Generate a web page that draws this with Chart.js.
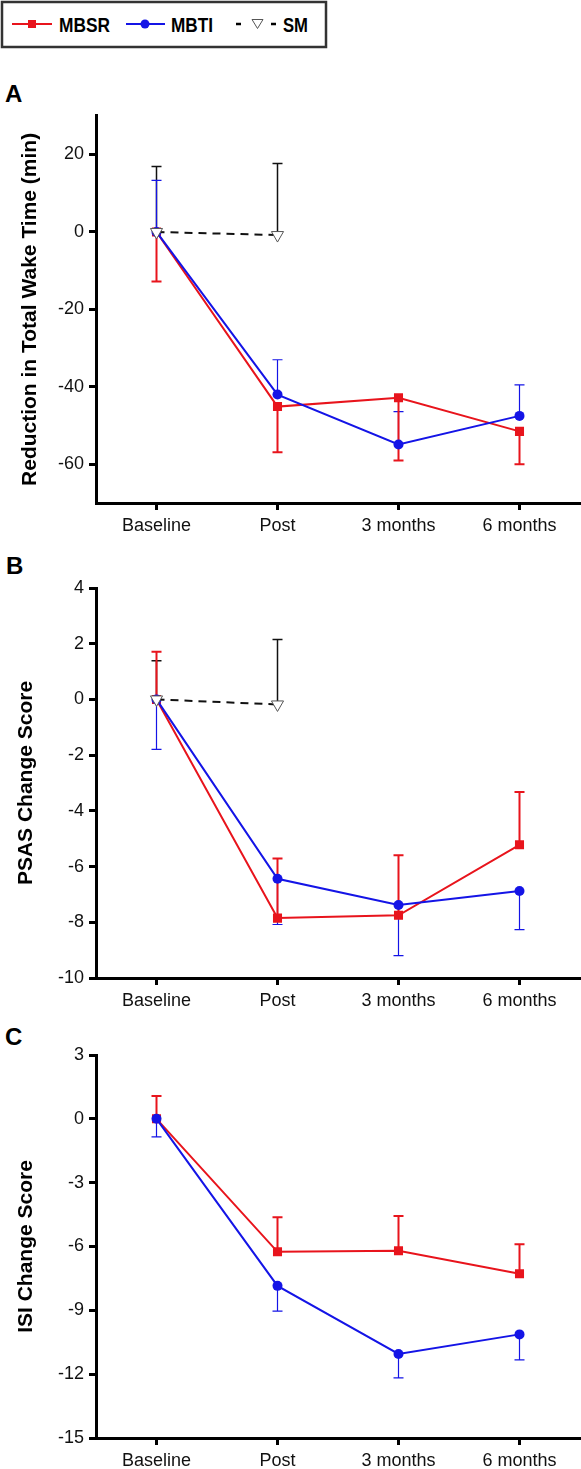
<!DOCTYPE html>
<html>
<head>
<meta charset="utf-8">
<script src="https://cdn.jsdelivr.net/npm/chart.js@4"></script>
<style>
  body { margin: 0; background: #fff; width: 581px; height: 1469px; position: relative; overflow: hidden; font-family: 'Liberation Sans', Arial, sans-serif; }
  canvas { position: absolute; left: 0; }
  .panel-letter { position: absolute; font-weight: bold; font-size: 24px; color: #000; }
</style>
</head>
<body>
<svg width="332" height="52" style="position:absolute;left:0;top:0">
  <rect x="2" y="2" width="324" height="45" fill="#fff" stroke="#333" stroke-width="2.5"/>
  <line x1="12" y1="24" x2="52" y2="24" stroke="#e8141c" stroke-width="2"/>
  <rect x="28" y="20" width="8" height="8" fill="#e8141c"/>
  <text x="59" y="31.5" font-size="20" font-weight="bold" textLength="51" lengthAdjust="spacingAndGlyphs" font-family="'Liberation Sans',Arial,sans-serif">MBSR</text>
  <line x1="126" y1="24" x2="165" y2="24" stroke="#1414e6" stroke-width="2"/>
  <circle cx="145" cy="24" r="4.5" fill="#1414e6"/>
  <text x="171" y="31.5" font-size="20" font-weight="bold" textLength="42" lengthAdjust="spacingAndGlyphs" font-family="'Liberation Sans',Arial,sans-serif">MBTI</text>
  <line x1="236" y1="24" x2="241" y2="24" stroke="#000" stroke-width="2.5"/>
  <polygon points="252,19.5 263,19.5 257.5,28.5" fill="#fff" stroke="#555" stroke-width="1"/>
  <line x1="271" y1="24" x2="276" y2="24" stroke="#000" stroke-width="2.5"/>
  <text x="283" y="31.5" font-size="20" font-weight="bold" textLength="25" lengthAdjust="spacingAndGlyphs" font-family="'Liberation Sans',Arial,sans-serif">SM</text>
</svg>

<div class="panel-letter" style="left:5px;top:80px">A</div>
<div class="panel-letter" style="left:6px;top:552px">B</div>
<div class="panel-letter" style="left:5px;top:1023px">C</div>

<canvas id="chartA" width="581" height="450" style="top:100px"></canvas>
<canvas id="chartB" width="581" height="465" style="top:555px"></canvas>
<canvas id="chartC" width="581" height="449" style="top:1020px"></canvas>

<script>
const timepoints = ['Baseline', 'Post', '3 months', '6 months'];

// Panel A - reduction in total wake time (min)
const wakeMBSR = [0, -45.1, -42.8, -51.5];
const wakeMBTI = [0, -42.0, -54.9, -47.5];
const wakeSM = [0, -0.8, null, null];
const wakeErrMBSR = [12.8, 11.8, 16.2, 8.5];   // drawn downward
const wakeErrMBTI = [13.3, 9.0, 8.5, 8.0];     // drawn upward
const wakeErrSM = [16.9, 18.5, null, null];    // drawn upward
const wakeTicks = [-60, -40, -20, 0, 20];

// Panel B - PSAS change score
const psasMBSR = [0, -7.85, -7.75, -5.22];
const psasMBTI = [0, -6.44, -7.38, -6.88];
const psasSM = [0, -0.18, null, null];
const psasErrMBSR = [1.71, 2.14, 2.16, 1.9];   // up
const psasErrMBTI = [1.79, 1.64, 1.82, 1.38];  // down
const psasErrSM = [1.39, 2.33, null, null];    // up
const psasTicks = [-10, -8, -6, -4, -2, 0, 2, 4];

// Panel C - ISI change score
const isiMBSR = [0, -6.25, -6.2, -7.28];
const isiMBTI = [0, -7.85, -11.05, -10.13];
const isiErrMBSR = [1.07, 1.63, 1.63, 1.39];   // up
const isiErrMBTI = [0.85, 1.19, 1.12, 1.2];    // down
const isiTicks = [-15, -12, -9, -6, -3, 0, 3];

const RED = '#e8141c';
const BLUE = '#1414e6';

Chart.defaults.font.family = "'Liberation Sans', Arial, sans-serif";
Chart.defaults.color = '#111';

const errorBars = {
    id: 'errorBars',
    beforeDatasetsDraw(chart) {
        const ctx = chart.ctx;
        const yScale = chart.scales.y;
        chart.data.datasets.forEach((ds, i) => {
            if (!ds.err) return;
            const meta = chart.getDatasetMeta(i);
            ctx.save();
            ctx.setLineDash([]);
            ctx.strokeStyle = ds.errColor || ds.borderColor;
            ctx.lineWidth = ds.errWidth || 1.5;
            meta.data.forEach((pt, j) => {
                if (ds.data[j] == null || ds.err[j] == null) return;
                const yEnd = yScale.getPixelForValue(ds.data[j] + ds.errDir * ds.err[j]);
                ctx.beginPath();
                ctx.moveTo(pt.x, pt.y);
                ctx.lineTo(pt.x, yEnd);
                ctx.moveTo(pt.x - 5, yEnd);
                ctx.lineTo(pt.x + 5, yEnd);
                ctx.stroke();
            });
            ctx.restore();
        });
    }
};

function smSet(data, err) {
    return {
        label: 'SM', data: data, err: err, errDir: 1, errColor: '#111', errWidth: 1.5,
        borderColor: '#111', borderWidth: 2, borderDash: [8, 6],
        pointStyle: 'triangle', rotation: 180, pointRadius: 7,
        pointBackgroundColor: '#fff', pointBorderColor: '#555', pointBorderWidth: 1,
        spanGaps: false
    };
}
function mbtiSet(data, err, dir) {
    return {
        label: 'MBTI', data: data, err: err, errDir: dir, errWidth: 1.2,
        borderColor: BLUE, borderWidth: 2,
        pointStyle: 'circle', pointRadius: 5, pointBackgroundColor: BLUE, pointBorderColor: BLUE, pointBorderWidth: 0
    };
}
function mbsrSet(data, err, dir) {
    return {
        label: 'MBSR', data: data, err: err, errDir: dir, errWidth: 2,
        borderColor: RED, borderWidth: 2,
        pointStyle: 'rect', pointRadius: 6.4, pointBackgroundColor: RED, pointBorderColor: RED, pointBorderWidth: 0
    };
}

function makeChart(id, datasets, opts) {
    return new Chart(document.getElementById(id), {
        type: 'line',
        data: { labels: timepoints, datasets: datasets },
        options: {
            responsive: false,
            animation: false,
            layout: { autoPadding: false, padding: { top: opts.padTop, left: 0, right: 1, bottom: 0 } },
            plugins: { legend: { display: false }, tooltip: { enabled: false } },
            elements: { line: { tension: 0 } },
            scales: {
                x: {
                    offset: true,
                    border: { display: true, color: '#000', width: 3 },
                    grid: { drawOnChartArea: false, drawTicks: true, tickLength: 7, color: '#000', lineWidth: 3 },
                    ticks: { font: { size: 18 }, color: '#111', padding: 5, maxRotation: 0, autoSkip: false },
                    afterFit: s => { s.height = opts.xHeight; }
                },
                y: {
                    min: opts.min, max: opts.max,
                    border: { display: true, color: '#000', width: 3 },
                    grid: { drawOnChartArea: false, drawTicks: true, tickLength: 7, color: '#000', lineWidth: 3 },
                    ticks: { font: { size: 18 }, color: '#111', padding: 5 },
                    afterBuildTicks: s => { s.ticks = opts.ticks.map(v => ({ value: v })); },
                    title: { display: true, text: opts.title, color: '#000', font: { size: 21, weight: 'bold' }, padding: { top: opts.titlePad, bottom: 0 } },
                    afterFit: s => { s.width = 96; }
                }
            }
        },
        plugins: [errorBars]
    });
}

makeChart('chartA', [
    smSet(wakeSM, wakeErrSM),
    mbtiSet(wakeMBTI, wakeErrMBTI, 1),
    mbsrSet(wakeMBSR, wakeErrMBSR, -1)
], { padTop: 12, xHeight: 47, min: -70, max: 30, ticks: wakeTicks, title: 'Reduction in Total Wake Time (min)', titlePad: 18 });

makeChart('chartB', [
    smSet(psasSM, psasErrSM),
    mbtiSet(psasMBTI, psasErrMBTI, -1),
    mbsrSet(psasMBSR, psasErrMBSR, 1)
], { padTop: 33, xHeight: 42, min: -10, max: 4, ticks: psasTicks, title: 'PSAS Change Score', titlePad: 14 });

makeChart('chartC', [
    mbtiSet(isiMBTI, isiErrMBTI, -1),
    mbsrSet(isiMBSR, isiErrMBSR, 1)
], { padTop: 35, xHeight: 31, min: -15, max: 3, ticks: isiTicks, title: 'ISI Change Score', titlePad: 14 });
</script>
</body>
</html>
